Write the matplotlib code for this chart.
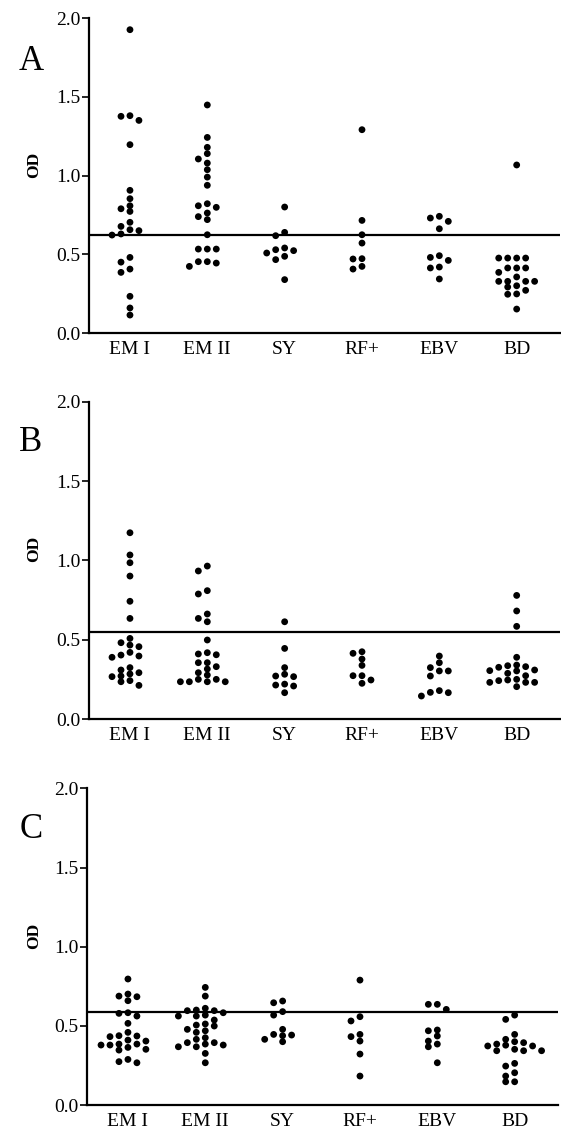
import matplotlib
matplotlib.use("Agg")
import numpy as np
import matplotlib.pyplot as plt

plt.rcParams['font.family'] = ['Liberation Serif', 'DejaVu Serif']

groups = ["EM I", "EM II", "SY", "RF+", "EBV", "BD"]
panel_letters = ["A", "B", "C"]
cutoffs = [0.62, 0.55, 0.588]
yticks = [0.0, 0.5, 1.0, 1.5, 2.0]

# panel A
a_em1 = [1.926, 1.38, 1.376, 1.35, 1.196, 0.906, 0.853, 0.808, 0.789, 0.772, 0.703, 0.677,
         0.656, 0.65, 0.629, 0.622, 0.48, 0.45, 0.406, 0.385, 0.233, 0.159, 0.114]
a_em2 = [1.448, 1.242, 1.179, 1.139, 1.105, 1.079, 1.037, 0.99, 0.938, 0.821, 0.808, 0.798,
         0.762, 0.739, 0.72, 0.624, 0.533, 0.533, 0.533, 0.453, 0.453, 0.444, 0.423]
a_sy = [0.80, 0.639, 0.618, 0.54, 0.529, 0.523, 0.508, 0.487, 0.466, 0.339]
a_rf = [1.291, 0.715, 0.624, 0.571, 0.472, 0.47, 0.423, 0.406]
a_ebv = [0.741, 0.73, 0.709, 0.662, 0.491, 0.48, 0.461, 0.419, 0.413, 0.343]
a_bd = [1.067, 0.476, 0.476, 0.476, 0.476, 0.413, 0.413, 0.413, 0.385, 0.356, 0.328, 0.328,
        0.328, 0.328, 0.30, 0.292, 0.271, 0.248, 0.246, 0.152]

# panel B
b_em1 = [1.174, 1.034, 0.985, 0.901, 0.742, 0.634, 0.508, 0.481, 0.466, 0.456, 0.42, 0.403,
         0.397, 0.389, 0.324, 0.309, 0.292, 0.284, 0.271, 0.267, 0.242, 0.235, 0.212]
b_em2 = [0.964, 0.933, 0.809, 0.788, 0.662, 0.634, 0.613, 0.498, 0.418, 0.41, 0.405, 0.355,
         0.355, 0.33, 0.315, 0.292, 0.277, 0.25, 0.25, 0.235, 0.235, 0.235, 0.235]
b_sy = [0.613, 0.445, 0.324, 0.282, 0.271, 0.267, 0.22, 0.214, 0.208, 0.166]
b_rf = [0.424, 0.414, 0.378, 0.338, 0.273, 0.273, 0.246, 0.225]
b_ebv = [0.397, 0.355, 0.324, 0.303, 0.303, 0.271, 0.179, 0.168, 0.166, 0.145]
b_bd = [0.779, 0.681, 0.584, 0.389, 0.34, 0.336, 0.33, 0.326, 0.309, 0.305, 0.303, 0.288,
        0.273, 0.25, 0.246, 0.242, 0.231, 0.231, 0.231, 0.204]

# panel C
c_em1 = [0.796, 0.701, 0.688, 0.684, 0.659, 0.583, 0.579, 0.562, 0.516, 0.459, 0.438, 0.436,
         0.432, 0.41, 0.404, 0.385, 0.385, 0.379, 0.379, 0.364, 0.352, 0.347, 0.288, 0.274, 0.267]
c_em2 = [0.743, 0.688, 0.611, 0.60, 0.596, 0.596, 0.583, 0.568, 0.562, 0.562, 0.537, 0.512,
         0.505, 0.499, 0.478, 0.469, 0.459, 0.425, 0.415, 0.394, 0.394, 0.385, 0.379, 0.368,
         0.368, 0.326, 0.267]
c_sy = [0.657, 0.646, 0.59, 0.568, 0.478, 0.446, 0.442, 0.438, 0.415, 0.40]
c_rf = [0.789, 0.558, 0.531, 0.446, 0.432, 0.404, 0.322, 0.183]
c_ebv = [0.636, 0.636, 0.604, 0.474, 0.469, 0.436, 0.404, 0.385, 0.368, 0.267]
c_bd = [0.568, 0.541, 0.446, 0.415, 0.40, 0.394, 0.385, 0.378, 0.373, 0.373, 0.352, 0.343,
        0.343, 0.343, 0.263, 0.246, 0.204, 0.183, 0.147, 0.147]

panels = [
    [a_em1, a_em2, a_sy, a_rf, a_ebv, a_bd],
    [b_em1, b_em2, b_sy, b_rf, b_ebv, b_bd],
    [c_em1, c_em2, c_sy, c_rf, c_ebv, c_bd],
]


def swarm_offsets(vals, dy=0.036, step=0.116):
    # greedy column-scatter layout: fill slots 0, -1, +1, -2, +2 ...
    order = np.argsort(vals)[::-1]
    placed = {}
    offs = np.zeros(len(vals))
    for i in order:
        v = vals[i]
        k = 0
        while True:
            slot = (k + 1) // 2 * (-1 if k % 2 else 1)
            if all(abs(v - w) >= dy for w in placed.get(slot, [])):
                placed.setdefault(slot, []).append(v)
                offs[i] = slot * step
                break
            k += 1
    return offs


fig = plt.figure(figsize=(5.61, 11.35), dpi=100)
boxes = [(0.1586, 0.7066, 0.8396, 0.2775),
         (0.1586, 0.3665, 0.8396, 0.2796),
         (0.1550, 0.0264, 0.8396, 0.2790)]
letter_y = [0.946, 0.610, 0.269]

for p, data in enumerate(panels):
    ax = fig.add_axes(boxes[p])
    for g, vals in enumerate(data):
        vals = np.array(vals)
        x = g + 1 + swarm_offsets(vals)
        ax.scatter(x, vals, s=24, color="black", edgecolors="none", zorder=3)
    ax.axhline(cutoffs[p], color="black", lw=1.6, zorder=2)
    ax.set_xlim(0.47, 6.56)
    ax.set_ylim(0, 2.0)
    ax.set_yticks(yticks)
    ax.set_yticklabels(["%.1f" % t for t in yticks], fontsize=14)
    ax.set_xticks(range(1, 7))
    ax.set_xticklabels(groups, fontsize=14)
    ax.tick_params(axis="x", length=0, pad=6)
    ax.tick_params(axis="y", length=5, width=1.2, pad=1, direction="out")
    for s in ["top", "right"]:
        ax.spines[s].set_visible(False)
    ax.spines["left"].set_linewidth(1.6)
    ax.spines["bottom"].set_linewidth(1.6)
    ax.spines["left"].set_bounds(0, 2.0)
    fig.text(0.055, letter_y[p], panel_letters[p], fontsize=25, ha="center", va="center")
    fig.text(0.06, boxes[p][1] + boxes[p][3] * 0.535, "OD", fontsize=12.5, fontweight="bold",
             rotation=90, ha="center", va="center")

fig.savefig("out.png", dpi=100)
